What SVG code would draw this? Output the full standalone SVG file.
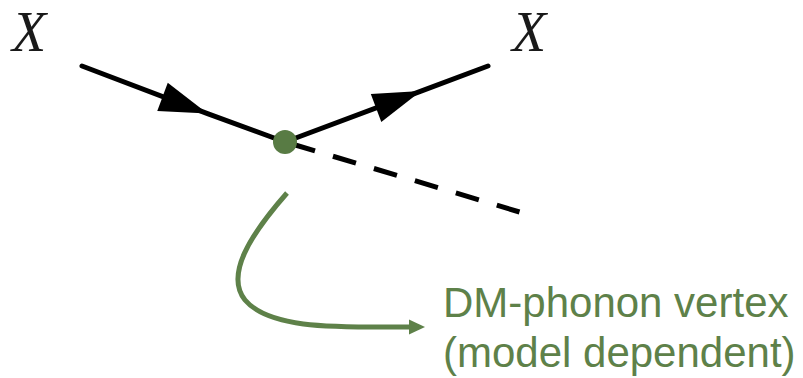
<svg xmlns="http://www.w3.org/2000/svg" width="803" height="378" viewBox="0 0 803 378">
  <style>
    .lbl { font-family: "Liberation Serif", "Times New Roman", serif; font-style: italic; font-size: 56px; fill: #1a1a1a; }
    .note { font-family: "Liberation Sans", Arial, sans-serif; font-size: 42px; fill: #5e8149; }
    .fermion { fill: none; stroke: #000; stroke-width: 5; stroke-linecap: round; marker-mid: url(#tri); }
    .phonon { fill: none; stroke: #000; stroke-width: 5; stroke-dasharray: 24 18.75; }
    .pointer { fill: none; stroke: #5e8149; stroke-width: 5; marker-end: url(#gtri); }
  </style>
  <defs>
    <marker id="tri" markerUnits="userSpaceOnUse" markerWidth="60" markerHeight="40" refX="48" refY="15" orient="auto" overflow="visible">
      <path d="M0,0 L48,15 L0,30 z" fill="#000"/>
    </marker>
    <marker id="gtri" markerUnits="userSpaceOnUse" markerWidth="20" markerHeight="20" refX="1" refY="7.5" orient="auto" overflow="visible">
      <path d="M0,0 L16,7.5 L0,15 z" fill="#5e8149"/>
    </marker>
  </defs>
  <g id="connectors">
    <polyline class="fermion" points="82,66 207.5,113.6 285,142"/>
    <polyline class="fermion" points="285,142 421,91.1 488,66"/>
    <line class="phonon" x1="292" y1="144" x2="519.5" y2="212"/>
    <path class="pointer" d="M287,193 C250,235 225,275 245,300 C270,330 340,327 410,327"/>
  </g>
  <g id="vertex">
    <circle cx="285" cy="142" r="12" fill="#587b44"/>
  </g>
  <g id="label-x-in">
    <text class="lbl" x="12" y="51">X</text>
  </g>
  <g id="label-x-out">
    <text class="lbl" x="512" y="51">X</text>
  </g>
  <g id="label-vertex">
    <text class="note" x="443" y="317">DM-phonon vertex</text>
    <text class="note" x="443" y="367">(model dependent)</text>
  </g>
</svg>
